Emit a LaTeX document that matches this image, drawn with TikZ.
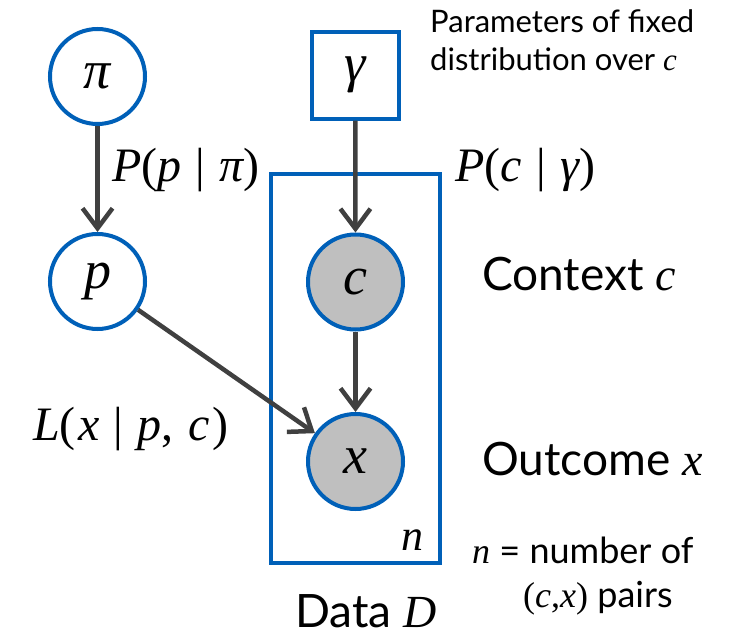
\documentclass[tikz,border=0pt]{standalone}
\usepackage{fontspec}
\setmainfont{Lato}
\newfontfamily\tmsup{Liberation Serif}
\newfontfamily\tmsit{Liberation Serif Italic}
\usetikzlibrary{arrows.meta}
\definecolor{nblue}{RGB}{0,96,184}
\definecolor{ngray}{RGB}{191,191,191}
\definecolor{adark}{RGB}{64,64,64}
\newcommand{\mi}[1]{{\tmsit #1}}
\newcommand{\gbar}{\kern0.3em{\tmsup|}\kern0.3em}
\begin{document}
\begin{tikzpicture}[x=1pt,y=-1pt,
  var/.style={circle, draw=nblue, line width=4pt, minimum size=95pt, inner sep=0pt, fill=white,
    font=\fontsize{54}{54}\tmsit},
  obs/.style={var, fill=ngray},
  param/.style={rectangle, draw=nblue, line width=4pt, minimum size=86.5pt, inner sep=0pt,
    font=\fontsize{54}{54}\tmsit},
  plate/.style={rectangle, draw=nblue, line width=4pt, inner sep=0pt},
  edge/.style={draw=adark, line width=4.5pt, -{Straight Barb[length=20pt, width=30pt]}},
  lbl/.style={font=\fontsize{48}{48}\tmsup, inner sep=0pt},
  txt/.style={font=\fontsize{46}{46}\selectfont, inner sep=0pt}
]
\useasboundingbox (0,0) rectangle (733,636);
% plate
\node[plate, minimum width=169pt, minimum height=389pt] (plate) at (355.5,368.5) {};
% nodes
\node[var] (pi) at (97.5,76.5) {π};
\node[param] (gamma) at (355.3,75.3) {γ};
\node[var] (p) at (97.5,281.5) {p};
\node[obs] (c) at (355.5,282) {c};
\node[obs] (x) at (355.5,461.5) {x};
% edges
\draw[edge] (pi) -- (p);
\draw[edge] (gamma) -- (c);
\draw[edge] (c) -- (x);
\draw[edge] (p) -- (x);
% labels
\node[lbl, anchor=base west] (lpp) at (112,182) {\mi{P}(\mi{p}\gbar\mi{π})};
\node[lbl, anchor=base west] (lcg) at (455,182) {\mi{P}(\mi{c}\gbar\mi{γ})};
\node[lbl, anchor=base west] (lx) at (33,440) {\mi{L}(\kern0.05em\mi{x}\gbar\mi{p},\kern0.3em\mi{c}\kern0.05em)};
\node[font=\fontsize{44}{44}\tmsit, inner sep=0pt, anchor=base] (nn) at (412,550) {n};
% texts
\node[font=\fontsize{31}{38}\selectfont, inner sep=0pt, anchor=base west, align=left] (par) at (430,71)
  {Parameters of fixed\\distribution over \mi{c}};
\node[txt, anchor=base west] (ctx) at (482,290) {Context \mi{c}};
\node[txt, anchor=base west] (out) at (482,475) {Outcome \mi{x}};
\node[font=\fontsize{36}{36}\selectfont, inner sep=0pt, anchor=base west] (nnum) at (472,563) {\mi{n} = number of};
\node[font=\fontsize{36}{36}\selectfont, inner sep=0pt, anchor=base west] (pairs) at (523,607) {{\tmsup(}\mi{c}{\tmsup,}\mi{x}{\tmsup)} pairs};
\node[txt, anchor=base west] (data) at (295,627) {Data \mi{D}};
\end{tikzpicture}
\end{document}
